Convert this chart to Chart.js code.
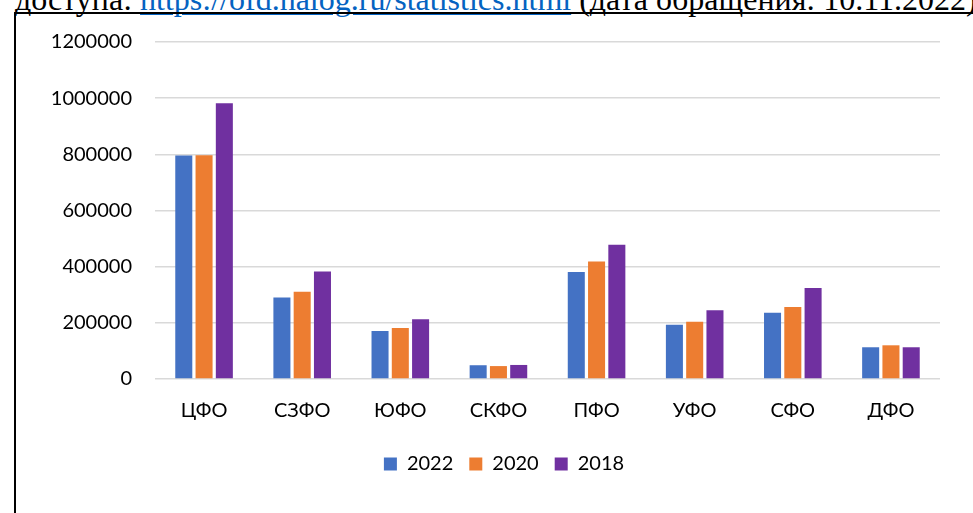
<!DOCTYPE html>
<html>
<head>
<meta charset="utf-8">
<script src="https://cdn.jsdelivr.net/npm/chart.js@4"></script>
<style>
  html, body { margin: 0; padding: 0; background: #fff; overflow: hidden; }
  body { width: 973px; height: 513px; position: relative; }
  #src {
    position: absolute; left: 15px; top: -17px;
    font-family: "Liberation Serif", serif; font-size: 32px; line-height: 32px;
    white-space: nowrap; color: #000;
  }
  #src a { color: #0563C1; text-decoration: underline; }
  #frame {
    position: absolute; left: 14px; top: 12px; width: 970px; height: 520px;
    border-left: 2px solid #000; border-top: 2px solid #000;
  }
  #barChart { position: absolute; left: 0; top: 0; }
</style>
</head>
<body>
<div id="src">доступа: <a>https://ofd.nalog.ru/statistics.html</a> (дата обращения: 10.11.2022)</div>
<div id="frame"></div>
<canvas id="barChart" width="973" height="513"></canvas>
<script>
// данные с картинки
const districts = ["ЦФО", "СЗФО", "ЮФО", "СКФО", "ПФО", "УФО", "СФО", "ДФО"];
const years = ["2022", "2020", "2018"];
const v2022 = [796000, 290000, 171000, 49000, 381000, 193000, 236000, 113000];
const v2020 = [797000, 311000, 182000, 46000, 418000, 204000, 256000, 120000];
const v2018 = [982000, 383000, 213000, 50000, 478000, 245000, 324000, 113000];
const yTicks = [0, 200000, 400000, 600000, 800000, 1000000, 1200000];

const colors = ["#4472C4", "#ED7D31", "#7030A0"];
const series = [v2022, v2020, v2018];

Chart.defaults.font.family = "Lato";
Chart.defaults.font.size = 20;
Chart.defaults.color = "#000";

// сдвиг легенды вправо, как в оригинале
const legendShift = {
  id: "legendShift",
  afterLayout(chart) {
    chart.legend.left += 34;
    chart.legend.right += 34;
  },
};

const ctx = document.getElementById("barChart").getContext("2d");
const myChart = new Chart(ctx, {
  type: "bar",
  data: {
    labels: districts,
    datasets: years.map((y, i) => ({
      label: y,
      data: series[i],
      backgroundColor: colors[i],
      categoryPercentage: 0.62,
      barPercentage: 0.84,
    })),
  },
  options: {
    responsive: false,
    animation: false,
    layout: {
      padding: { top: 42, right: 33, left: 0, bottom: 29 },
    },
    plugins: {
      legend: {
        position: "bottom",
        labels: {
          boxWidth: 13,
          boxHeight: 13,
          padding: 16,
          font: { size: 20 },
        },
      },
      tooltip: { enabled: false },
    },
    scales: {
      x: {
        grid: { display: false, drawTicks: false },
        border: { display: false },
        ticks: { padding: 20 },
        afterFit: (scale) => {
          scale.height = 59;
        },
      },
      y: {
        min: yTicks[0],
        max: yTicks[yTicks.length - 1],
        grid: { color: "#D9D9D9", lineWidth: 1.5, drawTicks: false },
        border: { display: false },
        afterBuildTicks: (scale) => {
          scale.ticks = yTicks.map((v) => ({ value: v }));
        },
        ticks: {
          padding: 23,
          callback: (v) => String(v),
        },
        afterFit: (scale) => {
          scale.width = 155;
        },
      },
    },
  },
  plugins: [legendShift],
});
</script>
</body>
</html>
